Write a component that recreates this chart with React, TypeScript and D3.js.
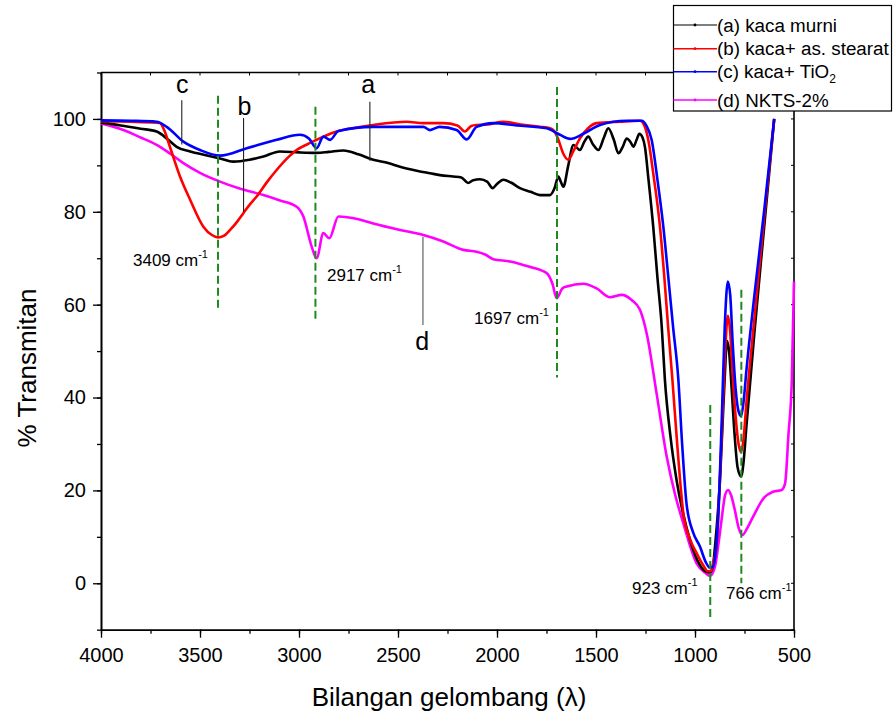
import React, { useRef, useEffect } from "react";
import * as d3 from "d3";

type Pt = [number, number];

// wavenumber (cm-1), % transmittance
const kacaMurni: Pt[] = [
  [4000, 99.2], [3900, 98.6], [3800, 97.9], [3719, 97.3], [3660, 95.5], [3618, 94.0],
  [3550, 93.0], [3470, 92.2], [3399, 91.5], [3332, 90.8], [3250, 91.2], [3180, 91.9],
  [3096, 93.0], [3000, 92.8], [2911, 92.7], [2850, 92.9], [2776, 93.2], [2700, 92.4],
  [2625, 91.2], [2550, 90.5], [2490, 89.7], [2400, 88.8], [2338, 88.3], [2288, 87.9],
  [2222, 87.6], [2180, 87.4], [2146, 86.2], [2120, 86.8], [2086, 87.0], [2050, 86.5],
  [2022, 85.1], [2000, 86.0], [1968, 86.9], [1930, 86.3], [1884, 85.1], [1830, 84.3],
  [1783, 83.6], [1732, 83.6], [1710, 85.0], [1690, 87.6], [1678, 86.5], [1665, 85.4],
  [1640, 90.0], [1614, 94.4], [1581, 93.3], [1560, 95.0], [1539, 96.2], [1515, 94.5],
  [1488, 93.3], [1460, 96.0], [1438, 98.0], [1410, 95.5], [1387, 92.6], [1365, 94.0],
  [1345, 95.8], [1325, 95.0], [1311, 94.0], [1295, 95.5], [1281, 96.8], [1265, 96.0],
  [1253, 94.0], [1235, 87.0], [1211, 76.8], [1190, 66.0], [1168, 55.3], [1152, 43.8],
  [1125, 32.0], [1093, 22.2], [1060, 15.0], [1025, 9.3], [975, 3.9], [945, 2.5],
  [925, 2.3], [910, 3.5], [899, 7.9], [885, 15.0], [874, 22.0], [860, 35.0], [848, 46.0],
  [839, 52.2], [828, 50.0], [815, 42.0], [800, 32.0], [785, 25.0], [767, 23.0],
  [755, 26.0], [740, 34.0], [700, 54.0], [650, 77.0], [600, 100.0],
];

const kacaStearat: Pt[] = [
  [4000, 99.5], [3850, 99.4], [3720, 99.2], [3702, 99.1], [3680, 97.5], [3652, 94.0],
  [3601, 87.6], [3550, 82.6], [3483, 76.8], [3440, 75.0], [3409, 74.5], [3380, 74.8],
  [3348, 76.1], [3310, 78.0], [3281, 79.7], [3250, 81.5], [3214, 83.3], [3160, 86.5],
  [3113, 89.0], [3060, 91.5], [3012, 93.3], [2960, 94.5], [2911, 95.5], [2860, 96.5],
  [2810, 97.3], [2700, 98.2], [2625, 98.7], [2456, 99.4], [2372, 99.1], [2271, 99.1],
  [2200, 98.6], [2162, 97.3], [2130, 98.5], [2103, 98.7], [2050, 98.8], [1968, 99.4],
  [1880, 98.8], [1783, 98.3], [1732, 98.0], [1705, 97.0], [1690, 95.5], [1665, 92.5],
  [1640, 91.2], [1615, 93.0], [1581, 95.8], [1540, 98.0], [1497, 99.1], [1379, 99.4],
  [1278, 99.6], [1255, 98.5], [1236, 95.5], [1210, 88.0], [1177, 76.8], [1155, 66.0],
  [1136, 55.3], [1114, 43.8], [1090, 30.0], [1059, 15.1], [1025, 9.5], [992, 6.5],
  [960, 4.0], [935, 2.6], [920, 2.6], [905, 5.0], [891, 7.9], [880, 17.0], [865, 32.0],
  [850, 48.0], [834, 57.6], [822, 54.0], [810, 45.0], [795, 36.0], [780, 30.0],
  [767, 28.3], [755, 31.0], [740, 39.0], [700, 57.0], [650, 79.0], [600, 100.0],
];

const kacaTiO2: Pt[] = [
  [4000, 99.7], [3850, 99.6], [3719, 99.4], [3668, 98.3], [3584, 95.1], [3500, 93.3],
  [3399, 92.1], [3264, 93.7], [3113, 95.5], [2995, 96.6], [2950, 95.8], [2911, 93.7],
  [2877, 96.2], [2843, 95.5], [2801, 97.4], [2625, 98.3], [2372, 98.3], [2338, 97.6],
  [2290, 98.3], [2204, 97.6], [2153, 95.6], [2103, 98.3], [2019, 99.1], [1900, 98.6],
  [1749, 98.0], [1682, 96.6], [1631, 95.7], [1564, 96.8], [1480, 98.7], [1345, 99.6],
  [1269, 99.6], [1245, 98.5], [1219, 95.5], [1190, 87.0], [1160, 76.8], [1135, 66.0],
  [1111, 55.3], [1084, 43.8], [1065, 30.0], [1043, 17.2], [1010, 11.0], [975, 7.9],
  [945, 4.5], [925, 3.3], [910, 3.5], [895, 7.0], [882, 15.0], [865, 35.0], [850, 55.0],
  [834, 65.0], [822, 62.0], [810, 52.0], [795, 42.0], [780, 37.0], [767, 36.0],
  [755, 39.0], [740, 46.0], [700, 62.0], [650, 80.5], [600, 100.0],
];

const nkts2: Pt[] = [
  [4000, 99.0], [3887, 97.6], [3800, 96.0], [3719, 94.4], [3650, 92.5], [3584, 90.5],
  [3500, 88.4], [3399, 86.5], [3300, 85.0], [3180, 83.6], [3100, 82.5], [3012, 81.1],
  [2978, 79.0], [2936, 72.5], [2911, 70.0], [2877, 75.4], [2847, 74.3], [2801, 79.0],
  [2700, 78.4], [2625, 77.5], [2490, 76.1], [2372, 75.0], [2271, 73.6], [2170, 71.8],
  [2103, 71.4], [2060, 70.8], [2019, 69.8], [1934, 69.3], [1840, 68.2], [1749, 66.8],
  [1720, 64.5], [1699, 61.4], [1670, 63.5], [1648, 63.9], [1564, 64.5], [1497, 63.5],
  [1429, 61.6], [1370, 62.1], [1320, 61.0], [1278, 58.9], [1244, 53.8], [1194, 40.9],
  [1143, 27.3], [1100, 19.0], [1059, 12.9], [992, 4.3], [950, 2.3], [925, 1.6],
  [899, 3.6], [880, 9.0], [866, 13.6], [848, 19.0], [833, 20.1], [818, 19.0], [799, 15.8],
  [780, 12.0], [760, 10.4], [735, 12.0], [707, 14.3], [650, 18.5], [606, 19.7],
  [562, 20.1], [545, 21.5], [528, 32.0], [511, 43.8], [500, 65.0],
];

const seriesNames = ["(a) kaca murni", "(b) kaca+ as. stearat", "(c) kaca+ TiO", "(d) NKTS-2%"];
const seriesColors = ["#000000", "#ff0000", "#0000ff", "#ff00ff"];
const seriesData = [kacaMurni, kacaStearat, kacaTiO2, nkts2];

const xMajorTicks = [4000, 3500, 3000, 2500, 2000, 1500, 1000, 500];
const yMajorTicks = [0, 20, 40, 60, 80, 100];

// peak markers: wavenumber, top and bottom (% T) of the dashed line
const peakWaves = [3409, 2917, 1697, 923, 766];
const peakTop = [105, 102.6, 106.9, 38.4, 63.2];
const peakBottom = [58.9, 56.3, 44.3, -7.5, 0];
const peakLabels = ["3409 cm", "2917 cm", "1697 cm", "923 cm", "766 cm"];

// curve letters with leader lines
const curveLetters = ["c", "b", "a", "d"];
const letterWave = [3590, 3275, 2650, 2378];
const letterY = [105.5, 100.9, 105.5, 50.2];
const leaderWave = [3592, 3280, 2642, 2374];
const leaderTop = [104, 100.2, 103.7, 74.6];
const leaderBottom = [94.5, 80.0, 91.0, 55.6];

const App = () => {
  const svgRef = useRef<SVGSVGElement>(null);

  useEffect(() => {
    document.body.style.margin = "0";
    const width = 896;
    const height = 715;
    const font = "'Liberation Sans', Arial, sans-serif";

    const svg = d3.select(svgRef.current)
      .attr("width", width)
      .attr("height", height)
      .style("font-family", font);

    svg.selectAll("*").remove();

    const x = d3.scaleLinear().domain([4000, 500]).range([101, 794]);
    const y = d3.scaleLinear().domain([-10, 110]).range([629.7, 72.5]);

    svg.append("rect").attr("width", width).attr("height", height).attr("fill", "white");

    // frame top and right
    svg.append("line")
      .attr("x1", x(4000)).attr("x2", x(500)).attr("y1", y(110)).attr("y2", y(110))
      .attr("stroke", "black").attr("stroke-width", 1.6);
    svg.append("line")
      .attr("x1", x(500)).attr("x2", x(500)).attr("y1", y(110)).attr("y2", y(-10))
      .attr("stroke", "black").attr("stroke-width", 1.6);

    // inward ticks on top and right
    const minorX = d3.range(4000, 499, -250);
    svg.append("g").selectAll("line").data(minorX).enter().append("line")
      .attr("x1", (d) => x(d)).attr("x2", (d) => x(d))
      .attr("y1", y(110)).attr("y2", y(110) + 3)
      .attr("stroke", "black").attr("stroke-width", 1);
    const minorY = d3.range(-10, 111, 10);
    svg.append("g").selectAll("line").data(minorY).enter().append("line")
      .attr("x1", x(500)).attr("x2", x(500) - 3)
      .attr("y1", (d) => y(d)).attr("y2", (d) => y(d))
      .attr("stroke", "black").attr("stroke-width", 1);

    // bottom axis
    const xAxis = svg.append("g").attr("transform", `translate(0,${y(-10)})`);
    xAxis.call(d3.axisBottom(x).tickValues(minorX).tickSize(4).tickSizeOuter(0).tickFormat(() => ""));
    xAxis.append("g").call(d3.axisBottom(x).tickValues(xMajorTicks).tickSize(8).tickSizeOuter(0).tickFormat(d3.format("d")));
    xAxis.selectAll("path").attr("stroke-width", 1.6);
    xAxis.selectAll("line").attr("stroke-width", 1.3);
    xAxis.selectAll("text")
      .attr("font-family", font).attr("font-size", 20).attr("fill", "black").attr("dy", "1.05em");

    // left axis
    const yAxis = svg.append("g").attr("transform", `translate(${x(4000)},0)`);
    yAxis.call(d3.axisLeft(y).tickValues(minorY).tickSize(4).tickSizeOuter(0).tickFormat(() => ""));
    yAxis.append("g").call(d3.axisLeft(y).tickValues(yMajorTicks).tickSize(8).tickSizeOuter(0).tickFormat(d3.format("d")));
    yAxis.selectAll("path").attr("stroke-width", 1.6);
    yAxis.selectAll("line").attr("stroke-width", 1.3);
    yAxis.selectAll("text")
      .attr("font-family", font).attr("font-size", 20).attr("fill", "black").attr("x", -15);

    // axis titles
    svg.append("text")
      .attr("x", 449).attr("y", 706)
      .attr("text-anchor", "middle").attr("font-size", 26)
      .text("Bilangan gelombang (λ)");
    svg.append("text")
      .attr("transform", "translate(36,368) rotate(-90)")
      .attr("text-anchor", "middle").attr("font-size", 26)
      .text("% Transmitan");

    // spectra
    const line = d3.line<Pt>()
      .x((d) => x(d[0]))
      .y((d) => y(d[1]))
      .curve(d3.curveMonotoneX);

    // draw d first, then a, b, c
    [3, 0, 1, 2].forEach((i) => {
      svg.append("path")
        .datum(seriesData[i])
        .attr("d", line)
        .attr("fill", "none")
        .attr("stroke", seriesColors[i])
        .attr("stroke-width", 2.6)
        .attr("stroke-linejoin", "round");
    });

    // dashed peak markers
    peakWaves.forEach((w, i) => {
      svg.append("line")
        .attr("x1", x(w)).attr("x2", x(w))
        .attr("y1", y(peakTop[i])).attr("y2", y(peakBottom[i]))
        .attr("stroke", "#1e8a1e").attr("stroke-width", 2)
        .attr("stroke-dasharray", "8,4");
    });

    // peak labels
    const labelX = [133, 327, 474, 632, 726];
    const labelY = [266, 281, 324, 594, 599];
    peakLabels.forEach((t, i) => {
      const txt = svg.append("text")
        .attr("x", labelX[i]).attr("y", labelY[i])
        .attr("font-size", 17);
      txt.append("tspan").text(t);
      txt.append("tspan").attr("font-size", 11).attr("dy", -8).text("-1");
    });

    // curve letters and leaders
    curveLetters.forEach((c, i) => {
      svg.append("line")
        .attr("x1", x(leaderWave[i])).attr("x2", x(leaderWave[i]))
        .attr("y1", y(leaderTop[i])).attr("y2", y(leaderBottom[i]))
        .attr("stroke", i === 3 ? "#555" : "#222").attr("stroke-width", 1.1);
      svg.append("text")
        .attr("x", x(letterWave[i])).attr("y", y(letterY[i]))
        .attr("text-anchor", "middle").attr("font-size", 25)
        .text(c);
    });

    // legend
    const lg = svg.append("g");
    lg.append("rect")
      .attr("x", 673.5).attr("y", 5.5).attr("width", 218).attr("height", 105.5)
      .attr("fill", "white").attr("stroke", "black").attr("stroke-width", 1.2);
    const rowY = [25, 48.7, 71.7, 100];
    seriesNames.forEach((name, i) => {
      lg.append("line")
        .attr("x1", 673.5).attr("x2", 717).attr("y1", rowY[i]).attr("y2", rowY[i])
        .attr("stroke", seriesColors[i]).attr("stroke-width", i === 0 ? 1.2 : 1.6);
      lg.append("circle")
        .attr("cx", 695).attr("cy", rowY[i]).attr("r", 1.4)
        .attr("fill", seriesColors[i]);
      const t = lg.append("text")
        .attr("x", 717).attr("y", rowY[i] + 6.6)
        .attr("font-size", 18.8);
      t.append("tspan").text(name);
      if (i === 2) t.append("tspan").attr("font-size", 12).attr("dy", 5).text("2");
    });
  }, []);

  return <svg ref={svgRef}></svg>;
};

export default App;
